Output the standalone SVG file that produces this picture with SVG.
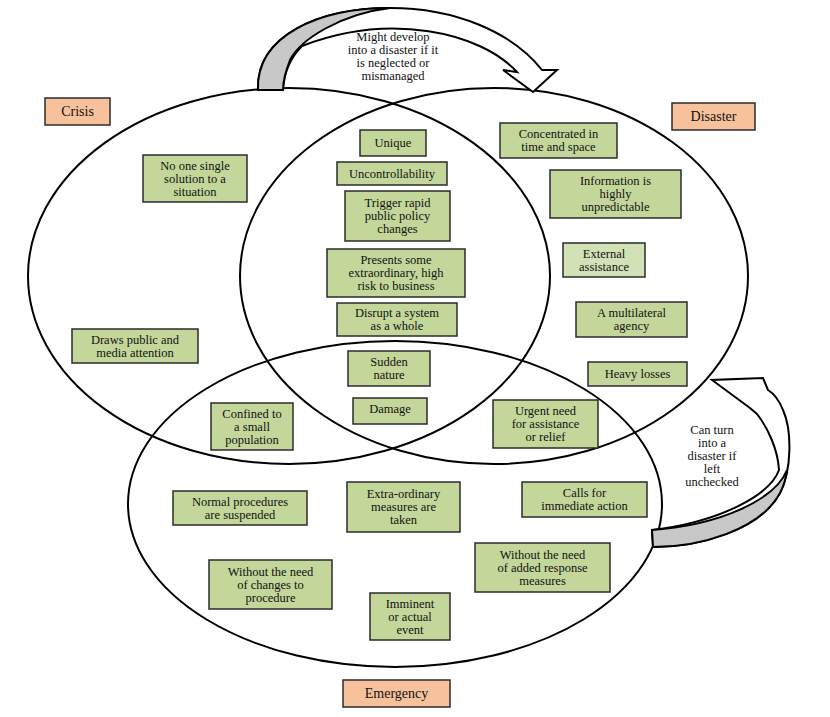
<svg xmlns="http://www.w3.org/2000/svg" width="830" height="717" viewBox="0 0 830 717" font-family="'Liberation Serif', 'DejaVu Serif', serif">
<style>
.ell{fill:none;stroke:#000;stroke-width:2}
.arr{fill:#fff;stroke:#000;stroke-width:2;stroke-linejoin:miter}
.back{fill:#c8c8c8;stroke:#000;stroke-width:2}
.g{fill:#c4d79b;stroke:#2b2b2b;stroke-width:1.5}
.o{fill:#f7c19b;stroke:#2b2b2b;stroke-width:1.5}
text{font-family:"Liberation Serif","DejaVu Serif",serif;font-size:12.5px;fill:#111;text-anchor:middle}
.lbl{font-size:14px}
</style>
<rect width="830" height="717" fill="#fff"/>
<g id="connectors">
  <ellipse id="crisis-set" class="ell" cx="289" cy="276" rx="261" ry="188"/>
  <ellipse id="disaster-set" class="ell" cx="494" cy="276" rx="254" ry="188"/>
  <ellipse id="emergency-set" class="ell" cx="395" cy="504" rx="267" ry="163"/>
  <g id="arrow-top">
    <path class="arr" d="M258,90 C256,35 320,8 390,8 C455,8 512,32 542,70 L557,70 L533,92 L503,70 L517,72 C480,32 390,12 302,46 C290,58 284,72 283,90 Z"/>
    <path class="back" d="M258,90 C256,35 320,8 390,8 C340,14 300,40 290,60 C286,70 283,80 283,90 Z"/>
    <text x="393" y="41">Might develop</text>
    <text x="393" y="54">into a disaster if it</text>
    <text x="393" y="67">is neglected or</text>
    <text x="393" y="80">mismanaged</text>
  </g>
  <g id="arrow-right">
    <path class="arr" d="M653,547 C700,547 760,530 780,493 C792,470 792,430 783,410 C779,400 773,393 768,390 L763,378 L712,380 L750,408 L757,414 C768,428 778,450 779,470 C770,495 720,522 652,530 Z"/>
    <path class="back" d="M653,547 C700,547 760,530 780,493 C784,485 786,478 787,470 C775,500 720,525 652,530 Z"/>
    <text x="712" y="434">Can turn</text>
    <text x="712" y="447">into a</text>
    <text x="712" y="460">disaster if</text>
    <text x="712" y="473">left</text>
    <text x="712" y="486">unchecked</text>
  </g>
</g>
<g id="crisis"><rect class="o" x="45" y="98" width="65" height="27"/><text class="lbl" x="77.5" y="116">Crisis</text></g>
<g id="disaster"><rect class="o" x="672" y="103" width="83" height="27"/><text class="lbl" x="713.5" y="121">Disaster</text></g>
<g id="emergency"><rect class="o" x="343" y="680" width="107" height="27"/><text class="lbl" x="396.5" y="698">Emergency</text></g>

<g id="n-no-one"><rect class="g" x="143" y="155" width="104" height="47"/><text x="195" y="170">No one single<tspan x="195" dy="13">solution to a</tspan><tspan x="195" dy="13">situation</tspan></text></g>
<g id="n-unique"><rect class="g" x="360" y="130" width="66" height="26"/><text x="393" y="147">Unique</text></g>
<g id="n-uncontrollability"><rect class="g" x="337" y="162" width="110" height="23"/><text x="392" y="177.7">Uncontrollability</text></g>
<g id="n-trigger"><rect class="g" x="345" y="191" width="105" height="50"/><text x="397.5" y="207.2">Trigger rapid<tspan x="397.5" dy="13">public policy</tspan><tspan x="397.5" dy="13">changes</tspan></text></g>
<g id="n-presents"><rect class="g" x="327" y="249" width="138" height="48"/><text x="396" y="264.2">Presents some<tspan x="396" dy="13">extraordinary, high</tspan><tspan x="396" dy="13">risk to business</tspan></text></g>
<g id="n-disrupt"><rect class="g" x="337" y="303" width="120" height="33"/><text x="397" y="317.2">Disrupt a system<tspan x="397" dy="13">as a whole</tspan></text></g>
<g id="n-sudden"><rect class="g" x="348" y="351" width="82" height="35"/><text x="389" y="366.2">Sudden<tspan x="389" dy="13">nature</tspan></text></g>
<g id="n-damage"><rect class="g" x="353" y="398" width="74" height="26"/><text x="390" y="413">Damage</text></g>
<g id="n-urgent"><rect class="g" x="493" y="400" width="105" height="48"/><text x="545.5" y="415.2">Urgent need<tspan x="545.5" dy="13">for assistance</tspan><tspan x="545.5" dy="13">or relief</tspan></text></g>
<g id="n-concentrated"><rect class="g" x="500" y="123" width="117" height="35"/><text x="558.5" y="138.2">Concentrated in<tspan x="558.5" dy="13">time and space</tspan></text></g>
<g id="n-information"><rect class="g" x="550" y="170" width="131" height="48"/><text x="615.5" y="185.2">Information is<tspan x="615.5" dy="13">highly</tspan><tspan x="615.5" dy="13">unpredictable</tspan></text></g>
<g id="n-external"><rect class="g" x="563" y="243" width="82" height="34" style="fill:#d3e2b6"/><text x="604" y="257.7">External<tspan x="604" dy="13">assistance</tspan></text></g>
<g id="n-multilateral"><rect class="g" x="576" y="302" width="111" height="35"/><text x="631.5" y="317.2">A multilateral<tspan x="631.5" dy="13">agency</tspan></text></g>
<g id="n-heavy"><rect class="g" x="588" y="362" width="99" height="24"/><text x="637.5" y="378.2">Heavy losses</text></g>
<g id="n-draws"><rect class="g" x="72" y="329" width="126" height="34"/><text x="135" y="343.7">Draws public and<tspan x="135" dy="13">media attention</tspan></text></g>
<g id="n-confined"><rect class="g" x="211" y="403" width="82" height="47"/><text x="252" y="417.7">Confined to<tspan x="252" dy="13">a small</tspan><tspan x="252" dy="13">population</tspan></text></g>
<g id="n-normal"><rect class="g" x="173" y="491" width="134" height="34"/><text x="240" y="505.7">Normal procedures<tspan x="240" dy="13">are suspended</tspan></text></g>
<g id="n-without-changes"><rect class="g" x="209" y="560" width="123" height="49"/><text x="270.5" y="575.7">Without the need<tspan x="270.5" dy="13">of changes to</tspan><tspan x="270.5" dy="13">procedure</tspan></text></g>
<g id="n-extra"><rect class="g" x="347" y="482" width="113" height="50"/><text x="403.5" y="498.2">Extra-ordinary<tspan x="403.5" dy="13">measures are</tspan><tspan x="403.5" dy="13">taken</tspan></text></g>
<g id="n-calls"><rect class="g" x="522" y="482" width="125" height="35"/><text x="584.5" y="497.2">Calls for<tspan x="584.5" dy="13">immediate action</tspan></text></g>
<g id="n-without-added"><rect class="g" x="475" y="543" width="135" height="49"/><text x="542.5" y="558.7">Without the need<tspan x="542.5" dy="13">of added response</tspan><tspan x="542.5" dy="13">measures</tspan></text></g>
<g id="n-imminent"><rect class="g" x="370" y="593" width="80" height="47"/><text x="410" y="607.7">Imminent<tspan x="410" dy="13">or actual</tspan><tspan x="410" dy="13">event</tspan></text></g>
</svg>
